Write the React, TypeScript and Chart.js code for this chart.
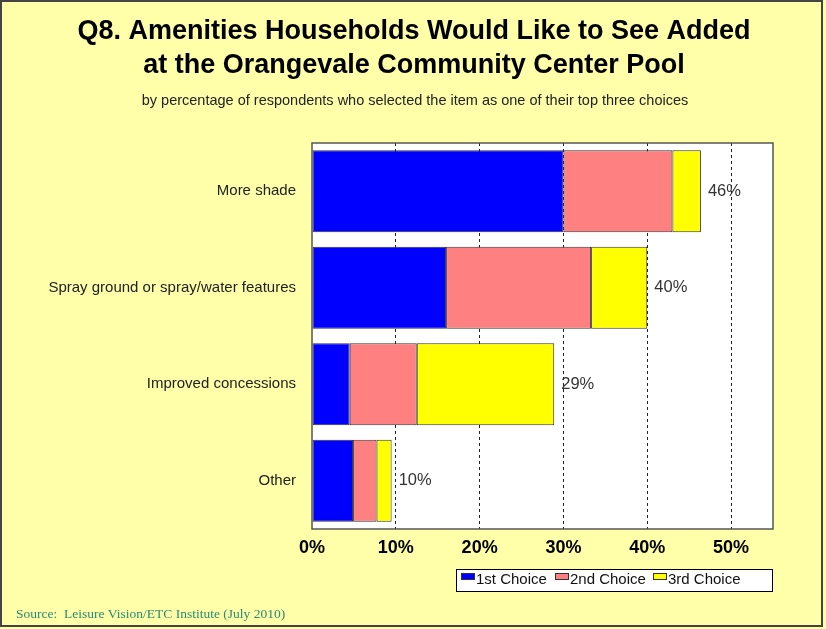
import React, { useEffect, useRef } from "react";
import { Chart, registerables } from "chart.js";

Chart.register(...registerables);

const categories = ["More shade", "Spray ground or spray/water features", "Improved concessions", "Other"];
const firstChoice = [30, 16, 4.5, 4.9];
const secondChoice = [13, 17.3, 8, 2.8];
const thirdChoice = [3.4, 6.7, 16.4, 1.8];
const totalLabels = ["46%", "40%", "29%", "10%"];
const seriesNames = ["1st Choice", "2nd Choice", "3rd Choice"];
const seriesColors = ["#0000FF", "#FF8080", "#FFFF00"];
const xTicks = [0, 10, 20, 30, 40, 50];

const W = 826;
const H = 629;
const SANS = "'Liberation Sans', Arial, sans-serif";

export default function App() {
  const ref = useRef<HTMLCanvasElement | null>(null);

  useEffect(() => {
    document.body.style.margin = "0";
    const canvas = ref.current;
    if (!canvas) return;

    const decor = {
      id: "decor",
      beforeDraw(chart: any) {
        const { ctx, chartArea: a } = chart;
        ctx.save();
        ctx.fillStyle = "#FFFFAA";
        ctx.fillRect(0, 0, W, H);
        ctx.fillStyle = "#FFFFFF";
        ctx.fillRect(a.left, a.top, a.right - a.left, a.bottom - a.top);
        ctx.fillStyle = "#000";
        ctx.textAlign = "center";
        ctx.textBaseline = "middle";
        ctx.font = "bold 27px " + SANS;
        ctx.fillText("Q8. Amenities Households Would Like to See Added", 414, 32, 686);
        ctx.fillText("at the Orangevale Community Center Pool", 414, 66, 686);
        ctx.fillStyle = "#222";
        ctx.font = "14.5px " + SANS;
        ctx.fillText("by percentage of respondents who selected the item as one of their top three choices", 415, 101, 560);
        ctx.restore();
      },
      afterDraw(chart: any) {
        const { ctx, chartArea: a } = chart;
        ctx.save();
        ctx.strokeStyle = "#555";
        ctx.lineWidth = 1.5;
        ctx.strokeRect(a.left, a.top, a.right - a.left, a.bottom - a.top);
        const meta = chart.getDatasetMeta(2);
        ctx.fillStyle = "#333";
        ctx.font = "16.5px " + SANS;
        ctx.textAlign = "left";
        ctx.textBaseline = "middle";
        meta.data.forEach((el: any, i: number) => {
          ctx.fillText(totalLabels[i], el.x + 7, el.y);
        });
        const lx = 456, ly = 569, lw = 316, lh = 22;
        ctx.fillStyle = "#fff";
        ctx.fillRect(lx, ly, lw, lh);
        ctx.strokeStyle = "#000";
        ctx.lineWidth = 1;
        ctx.strokeRect(lx + 0.5, ly + 0.5, lw, lh);
        const boxX = [461, 555, 653];
        ctx.font = "15px " + SANS;
        seriesNames.forEach((n, i) => {
          ctx.fillStyle = seriesColors[i];
          ctx.fillRect(boxX[i], 573, 14, 7);
          ctx.strokeStyle = "#333";
          ctx.strokeRect(boxX[i] + 0.5, 573.5, 13, 6);
          ctx.fillStyle = "#111";
          ctx.fillText(n, boxX[i] + 15, 580);
        });
        ctx.fillStyle = "#2A8A72";
        ctx.font = "13.5px 'Liberation Serif', 'Times New Roman', serif";
        ctx.textBaseline = "middle";
        ctx.fillText("Source:  Leisure Vision/ETC Institute (July 2010)", 16, 614);
        ctx.strokeStyle = "#444";
        ctx.lineWidth = 2;
        ctx.strokeRect(1, 1, W - 5, H - 4);
        ctx.restore();
      },
    };

    const chart = new Chart(canvas, {
      type: "bar",
      data: {
        labels: categories,
        datasets: [firstChoice, secondChoice, thirdChoice].map((d, i) => ({
          label: seriesNames[i],
          data: d,
          backgroundColor: seriesColors[i],
          borderColor: "#333",
          borderWidth: 1,
          borderSkipped: false,
          barPercentage: 0.85,
          categoryPercentage: 1,
        })),
      },
      options: {
        indexAxis: "y",
        responsive: false,
        animation: false,
        layout: { padding: { left: 0, top: 143, right: 53, bottom: 70 } },
        plugins: { legend: { display: false }, tooltip: { enabled: false }, title: { display: false } },
        scales: {
          x: {
            stacked: true,
            min: 0,
            max: 55,
            afterBuildTicks: (s: any) => {
              s.ticks = xTicks.map((v) => ({ value: v }));
            },
            afterFit: (s: any) => {
              s.height = 30;
            },
            ticks: {
              callback: (v: any) => v + "%",
              color: "#000",
              font: { family: SANS, size: 18, weight: "bold" },
              padding: 8,
            },
            grid: {
              color: (c: any) => (c.tick && c.tick.value === 0 ? "rgba(0,0,0,0)" : "#222"),
              lineWidth: 1,
              drawTicks: false,
            },
            border: { display: false, dash: [3, 3] },
          },
          y: {
            stacked: true,
            afterFit: (s: any) => {
              s.width = 312;
            },
            ticks: {
              color: "#222",
              font: { family: SANS, size: 15 },
              padding: 16,
            },
            grid: { display: false, drawTicks: false },
            border: { display: false },
          },
        },
      },
      plugins: [decor],
    } as any);

    return () => chart.destroy();
  }, []);

  return <canvas ref={ref} width={W} height={H} style={{ display: "block" }} />;
}
